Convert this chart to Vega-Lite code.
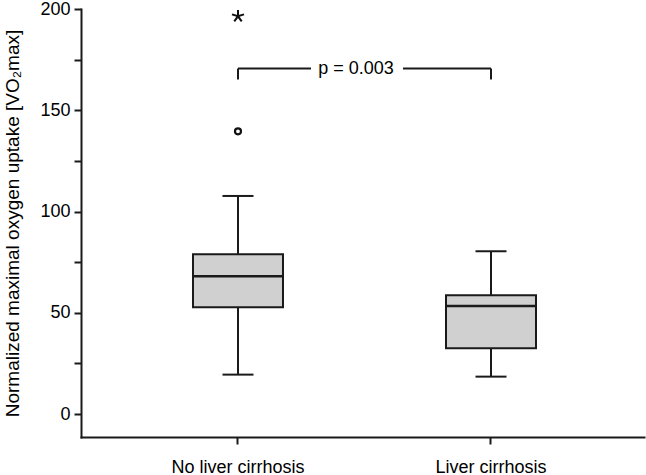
{
  "$schema": "https://vega.github.io/schema/vega-lite/v6.json",
  "width": 563,
  "height": 428,
  "autosize": {"type": "none"},
  "padding": {"left": 81, "top": 9, "right": 2, "bottom": 38},
  "background": "white",
  "config": {
    "view": {"stroke": null},
    "font": "Liberation Sans",
    "axis": {"grid": false, "domainColor": "#1a1a1a", "tickColor": "#1a1a1a", "labelColor": "#000", "titleColor": "#000", "domainWidth": 2, "tickWidth": 2, "labelFont": "Liberation Sans", "titleFont": "Liberation Sans", "labelFontSize": 18, "titleFontSize": 19, "titleFontWeight": "normal"}
  },
  "datasets": {
    "stats": [
      {"group": "No liver cirrhosis", "lower": 19.5, "q1": 52.8, "median": 68.1, "q3": 78.9, "upper": 107.7},
      {"group": "Liver cirrhosis", "lower": 18.5, "q1": 32.5, "median": 53.4, "q3": 58.7, "upper": 80.4}
    ],
    "outliers": [
      {"group": "No liver cirrhosis", "value": 139.6, "kind": "outlier"},
      {"group": "No liver cirrhosis", "value": 196.4, "kind": "extreme"}
    ],
    "bracket": [
      {"from": "No liver cirrhosis", "to": "Liver cirrhosis", "top": 170.6, "foot": 165.2, "label": "p = 0.003"}
    ]
  },
  "encoding": {
    "x": {
      "field": "group", "type": "nominal",
      "sort": ["No liver cirrhosis", "Liver cirrhosis"],
      "scale": {"domain": ["No liver cirrhosis", "Liver cirrhosis"], "paddingInner": 0, "paddingOuter": 0.1126, "align": 0.535},
      "axis": {"title": null, "labelAngle": 0, "tickSize": 7, "labelPadding": 14, "domainCap": "square"}
    }
  },
  "layer": [
    {
      "data": {"name": "stats"},
      "layer": [
        {
          "mark": {"type": "rule", "color": "#1a1a1a", "strokeWidth": 2},
          "encoding": {
            "y": {
              "field": "lower", "type": "quantitative",
              "scale": {"domain": [-11.3, 200], "nice": false, "zero": false},
              "axis": {"title": "Normalized maximal oxygen uptake [VO₂max]", "values": [0, 25, 50, 75, 100, 125, 150, 175, 200], "labelExpr": "datum.value % 50 === 0 ? datum.label : ''", "tickSize": 7, "labelPadding": 4, "titlePadding": 17, "domainCap": "square"}
            },
            "y2": {"field": "upper"}
          }
        },
        {
          "mark": {"type": "tick", "color": "#1a1a1a", "opacity": 1, "size": 31, "thickness": 2, "orient": "horizontal"},
          "encoding": {"y": {"field": "lower", "type": "quantitative"}}
        },
        {
          "mark": {"type": "tick", "color": "#1a1a1a", "opacity": 1, "size": 31, "thickness": 2, "orient": "horizontal"},
          "encoding": {"y": {"field": "upper", "type": "quantitative"}}
        },
        {
          "mark": {"type": "bar", "fill": "#d0d0d0", "stroke": "#1a1a1a", "strokeWidth": 2, "size": 90},
          "encoding": {"y": {"field": "q1", "type": "quantitative"}, "y2": {"field": "q3"}}
        },
        {
          "mark": {"type": "tick", "color": "#1a1a1a", "opacity": 1, "size": 90, "thickness": 2.5, "orient": "horizontal"},
          "encoding": {"y": {"field": "median", "type": "quantitative"}}
        }
      ]
    },
    {
      "data": {"name": "outliers"},
      "transform": [{"filter": "datum.kind === 'outlier'"}],
      "mark": {"type": "point", "shape": "circle", "filled": false, "opacity": 1, "stroke": "#111", "strokeWidth": 2.2, "size": 36},
      "encoding": {"y": {"field": "value", "type": "quantitative"}}
    },
    {
      "data": {"name": "outliers"},
      "transform": [{"filter": "datum.kind === 'extreme'"}],
      "mark": {"type": "point", "shape": "M0,-1L0,0M-0.95,-0.31L0,0L0.95,-0.31M-0.59,0.81L0,0L0.59,0.81", "filled": false, "opacity": 1, "stroke": "#111", "strokeWidth": 2, "size": 160},
      "encoding": {"y": {"field": "value", "type": "quantitative"}}
    },
    {
      "data": {"name": "bracket"},
      "layer": [
        {
          "mark": {"type": "rule", "color": "#1a1a1a", "strokeWidth": 2, "x2Offset": -180},
          "encoding": {"x": {"field": "from", "type": "nominal", "bandPosition": 0.5}, "x2": {"field": "to", "bandPosition": 0.5}, "y": {"field": "top", "type": "quantitative"}}
        },
        {
          "mark": {"type": "rule", "color": "#1a1a1a", "strokeWidth": 2, "xOffset": 165},
          "encoding": {"x": {"field": "from", "type": "nominal", "bandPosition": 0.5}, "x2": {"field": "to", "bandPosition": 0.5}, "y": {"field": "top", "type": "quantitative"}}
        },
        {
          "mark": {"type": "rule", "color": "#1a1a1a", "strokeWidth": 2},
          "encoding": {"x": {"field": "from", "type": "nominal"}, "y": {"field": "top", "type": "quantitative"}, "y2": {"field": "foot"}}
        },
        {
          "mark": {"type": "rule", "color": "#1a1a1a", "strokeWidth": 2},
          "encoding": {"x": {"field": "to", "type": "nominal"}, "y": {"field": "top", "type": "quantitative"}, "y2": {"field": "foot"}}
        },
        {
          "mark": {"type": "text", "font": "Liberation Sans", "fontSize": 18, "color": "#000", "baseline": "middle", "align": "center", "dx": 118},
          "encoding": {"x": {"field": "from", "type": "nominal"}, "y": {"field": "top", "type": "quantitative"}, "text": {"field": "label"}}
        }
      ]
    }
  ]
}
